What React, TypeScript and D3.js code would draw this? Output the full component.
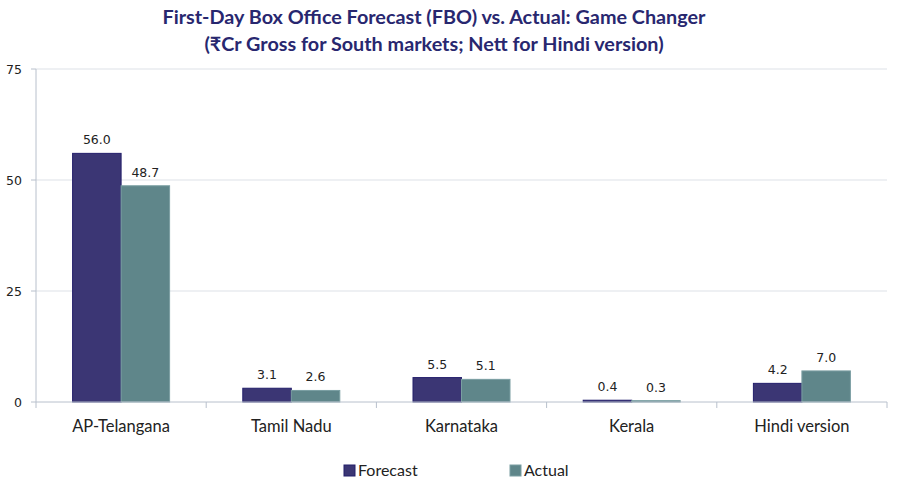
import React from "react";
import * as d3 from "d3";

const categories = ["AP-Telangana", "Tamil Nadu", "Karnataka", "Kerala", "Hindi version"];
const seriesNames = ["Forecast", "Actual"];
const forecast = [56.0, 3.1, 5.5, 0.4, 4.2];
const actual = [48.7, 2.6, 5.1, 0.3, 7.0];
const yTicks = [0, 25, 50, 75];
const colors = ["#3b3674", "#5f868a"];
const strokes = ["#231e6b", "#7a9ea2"];

const W = 900, H = 495;
const M = { left: 36, right: 887, top: 69, bottom: 402 };

export default function App() {
  const x0 = d3.scaleBand<string>().domain(categories).range([M.left, M.right]).paddingInner(0).paddingOuter(0);
  const groupW = 97;
  const x1 = d3.scaleBand<string>().domain(seriesNames).range([0, groupW]).padding(0);
  const y = d3.scaleLinear().domain([0, 75]).range([M.bottom, M.top]);
  const series = [forecast, actual];
  const bw = x0.bandwidth();
  const labelFont = "Lato, 'Noto Sans', sans-serif";
  const numFont = "'DejaVu Sans', Verdana, sans-serif";

  return (
    <svg width={W} height={H} style={{ position: "absolute", left: 0, top: 0, background: "#fff" }}>
      <text x={434} y={24} textAnchor="middle" fontFamily={labelFont} fontWeight={700} fontSize={19.8} fill="#28276f">
        First-Day Box Office Forecast (FBO) vs. Actual: Game Changer
      </text>
      <text x={434} y={51} textAnchor="middle" fontFamily={labelFont} fontWeight={700} fontSize={19.8} fill="#28276f">
        (₹Cr Gross for South markets; Nett for Hindi version)
      </text>
      {yTicks.map((t) => (
        <g key={t}>
          {t > 0 && <line x1={M.left} x2={M.right} y1={y(t)} y2={y(t)} stroke="#dde1e7" strokeWidth={1} />}
          <line x1={M.left - 5} x2={M.left} y1={y(t)} y2={y(t)} stroke="#b8c0cc" />
          <text x={22} y={y(t) + 4.5} textAnchor="end" fontFamily={numFont} fontSize={12.5} fill="#222">
            {t}
          </text>
        </g>
      ))}
      <line x1={M.left} x2={M.left} y1={M.top} y2={M.bottom} stroke="#b8c0cc" />
      {categories.map((c, i) => (
        <g key={c}>
          {series.map((s, j) => {
            const bx = (x0(c) as number) + (bw - groupW) / 2 + (x1(seriesNames[j]) as number);
            const by = y(s[i]);
            return (
              <g key={j}>
                <rect x={bx} y={by} width={x1.bandwidth()} height={y(0) - by} fill={colors[j]} stroke={strokes[j]} strokeWidth={1} />
                <text x={bx + x1.bandwidth() / 2} y={by - 9} textAnchor="middle" fontFamily={numFont} fontSize={12.5} fill="#222">
                  {s[i].toFixed(1)}
                </text>
              </g>
            );
          })}
          <text x={(x0(c) as number) + bw / 2} y={432} textAnchor="middle" fontFamily={labelFont} fontSize={16.5} fill="#222">
            {c}
          </text>
        </g>
      ))}
      <line x1={M.left} x2={M.right} y1={M.bottom} y2={M.bottom} stroke="#b8c0cc" />
      {d3.range(categories.length + 1).map((i) => {
        const xx = M.left + i * bw;
        return <line key={i} x1={xx} x2={xx} y1={M.bottom} y2={M.bottom + 6} stroke="#b8c0cc" />;
      })}
      {seriesNames.map((n, j) => {
        const lx = j === 0 ? 344 : 510;
        return (
          <g key={n}>
            <rect x={lx} y={465} width={11} height={11} fill={colors[j]} stroke={strokes[j]} />
            <text x={lx + 14} y={476} fontFamily={labelFont} fontSize={16} fill="#222">
              {n}
            </text>
          </g>
        );
      })}
    </svg>
  );
}
